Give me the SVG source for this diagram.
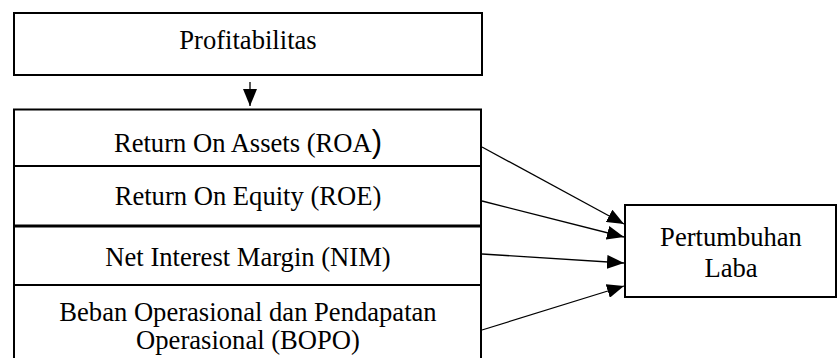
<svg xmlns="http://www.w3.org/2000/svg" width="838" height="358" viewBox="0 0 838 358">
<defs>
<style>
.box{fill:#fff;stroke:#000;stroke-width:2}
.div{stroke:#000;stroke-width:2}
.t{font-family:"Liberation Serif","Times New Roman",serif;font-size:26.6px;fill:#000;text-anchor:middle}
.c{stroke:#000;stroke-width:1.3;fill:none;marker-end:url(#ah)}
</style>
<marker id="ah" markerUnits="userSpaceOnUse" markerWidth="17" markerHeight="14" viewBox="0 0 17 14" refX="17" refY="7" orient="auto">
<path d="M0,0 L17,7 L0,14 Z" fill="#000"/>
</marker>
</defs>
<rect width="838" height="358" fill="#fff"/>
<g id="profitabilitas">
<rect class="box" x="14" y="13" width="468" height="62"/>
<text class="t" x="248" y="49">Profitabilitas</text>
</g>
<g id="rasio">
<rect class="box" x="14" y="109.5" width="467" height="260"/>
<line class="div" x1="14" y1="166" x2="481" y2="166"/>
<line class="div" x1="14" y1="226" x2="481" y2="226" style="stroke-width:3"/>
<line class="div" x1="14" y1="285" x2="481" y2="285"/>
</g>
<g id="roa">
<text class="t" x="248" y="152">Return On Assets (ROA<tspan style="font-family:'Liberation Sans',Arial,sans-serif;font-size:31px">)</tspan></text>
</g>
<g id="roe">
<text class="t" x="248" y="205">Return On Equity (ROE)</text>
</g>
<g id="nim">
<text class="t" x="248" y="266">Net Interest Margin (NIM)</text>
</g>
<g id="bopo">
<text class="t" x="248" y="321">Beban Operasional dan Pendapatan</text>
<text class="t" x="248" y="349">Operasional (BOPO)</text>
</g>
<g id="pertumbuhan-laba">
<rect class="box" x="625" y="205" width="211" height="92"/>
<text class="t" x="731" y="246">Pertumbuhan</text>
<text class="t" x="731" y="277">Laba</text>
</g>
<g id="connectors">
<line class="c" x1="250" y1="82" x2="250" y2="106"/>
<line class="c" x1="482" y1="147" x2="624" y2="224"/>
<line class="c" x1="482" y1="201" x2="624" y2="237"/>
<line class="c" x1="482" y1="254" x2="624" y2="263"/>
<line class="c" x1="482" y1="330" x2="624" y2="286"/>
</g>
</svg>
